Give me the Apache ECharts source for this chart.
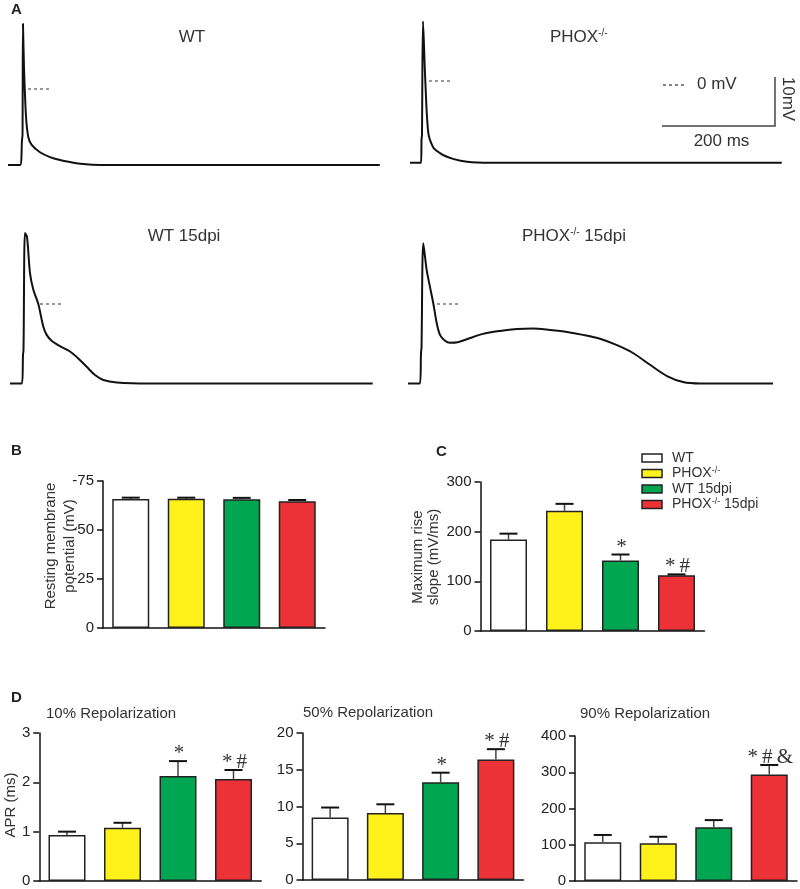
<!DOCTYPE html>
<html><head><meta charset="utf-8">
<script src="https://cdn.jsdelivr.net/npm/echarts@6/dist/echarts.min.js"></script>
<style>html,body{margin:0;padding:0;background:#fff}#c{width:800px;height:889px}</style>
</head><body><div id="c"></div>
<script>
// ---------- data ----------
const groups = ['WT', 'PHOX-/-', 'WT 15dpi', 'PHOX-/- 15dpi'];
const barColors = ['#ffffff', '#fff21a', '#00a651', '#ec3237'];

// Panel A: action potential traces [time ms, voltage mV]
const wtTrace = [[0,-15.5],[21.2,-15.5],[24.8,-10.4],[25.7,-9.4],[26.5,13.3],[28.3,4.5],[31.9,-5.7],[35.9,-9.8],[41.9,-11.4],[56.6,-12.9],[74.3,-13.9],[92,-14.5],[109.7,-14.9],[132.7,-15.3],[162.8,-15.5],[658,-15.5]];
const phoxTrace = [[0,-16.7],[19.5,-16.7],[20.4,-12.0],[21.2,-11.0],[23.0,12.2],[27.1,0],[32.4,-10.6],[40.7,-13.5],[47.8,-14.3],[58.4,-15.1],[76.1,-15.9],[100.9,-16.5],[141.6,-16.7],[658,-16.7]];
const wt15Trace = [[0,-16.2],[21.2,-16.2],[23.0,-10.4],[23.9,-9.4],[26.5,14.5],[30.1,13.7],[35.4,6.3],[41.3,2.9],[50.1,0],[58.9,-4.6],[64.9,-6.3],[73.7,-7.5],[88.5,-8.6],[106.2,-9.7],[120.9,-11.1],[135.7,-12.8],[150.4,-14.5],[165.2,-15.5],[188.8,-16.0],[247.8,-16.2],[642,-16.2]];
const phox15Trace = [[0,-16.2],[21.2,-16.2],[23.0,-10.0],[23.9,-9.0],[27.1,12.4],[33.1,6.9],[38.9,3.5],[44.8,0.1],[50.8,-3.9],[56.6,-6.3],[65.5,-7.5],[74.3,-7.9],[88,-7.8],[103.9,-7.2],[132.7,-6.1],[162.8,-5.5],[192.9,-5.1],[221.2,-5.0],[251.3,-5.3],[281.4,-5.7],[309.7,-6.3],[339.8,-7.1],[369.9,-8.4],[398.2,-10.0],[428.3,-12.4],[458.4,-14.7],[486.7,-15.9],[516.8,-16.2],[646,-16.2]];
// 0 mV dashed reference segments [start ms, end ms]
const zeroWT = [35.4, 74.3];
const zeroPHOX = [33.6, 74.3];
const zeroWT15 = [53.1, 92.0];
const zeroPHOX15 = [51.3, 90.3];

// Panel B: resting membrane potential (mV)
const restMean = [-65.8, -65.9, -65.7, -64.7];
const restErr = [0.7, 0.6, 0.7, 0.6];
const restMarks = ['', '', '', ''];
const restTicks = [-75, 0, 25];

// Panel C: maximum rise slope (mV/ms)
const riseMean = [184, 242, 142, 112];
const riseErr = [12, 14, 12, 2];
const riseMarks = ['', '', '*', '*\u2009#'];
const riseTicks = [0, 300, 100];

// Panel D: APR (ms)
const apr10Mean = [0.93, 1.08, 2.13, 2.07];
const apr10Err = [0.07, 0.1, 0.3, 0.18];
const apr10Marks = ['', '', '*', '*\u2009#'];
const apr10Ticks = [0, 3, 1];
const apr50Mean = [8.5, 9.1, 13.3, 16.4];
const apr50Err = [1.36, 1.2, 1.3, 1.4];
const apr50Marks = ['', '', '*', '*\u2009#'];
const apr50Ticks = [0, 20, 5];
const apr90Mean = [107, 104, 148, 294];
const apr90Err = [20, 18, 20, 26];
const apr90Marks = ['', '', '', '*\u2009#\u2009&'];
const apr90Ticks = [0, 400, 100];

// ---------- build ----------
const SANS = 'Liberation Sans, Arial, sans-serif';
const SERIF = 'Liberation Serif, Times New Roman, serif';
const chart = echarts.init(document.getElementById('c'), null, {renderer: 'canvas'});

const grids = [], xAxes = [], yAxes = [], series = [];

// trace grids: 0.565 px/ms, 4.9 px/mV, y range -18..16 mV
const PXMS = 0.565, PXMV = 4.9;
function traceGrid(left, widthPx, zeroY, trace, zero) {
  const gi = grids.length;
  grids.push({left: left, top: zeroY - 16 * PXMV, width: widthPx, height: 34 * PXMV});
  xAxes.push({type: 'value', gridIndex: gi, min: 0, max: widthPx / PXMS, show: false});
  yAxes.push({type: 'value', gridIndex: gi, min: -18, max: 16, show: false});
  series.push({type: 'line', xAxisIndex: gi, yAxisIndex: gi, data: trace, showSymbol: false,
    smooth: 0.3, lineStyle: {color: '#111', width: 2}, silent: true, z: 3});
  series.push({type: 'line', xAxisIndex: gi, yAxisIndex: gi, data: [[zero[0], 0], [zero[1], 0]],
    showSymbol: false, lineStyle: {color: '#333', width: 1.2, type: [3, 3]}, silent: true});
}
traceGrid(8, 372, 89, wtTrace, zeroWT);
traceGrid(410, 372, 81, phoxTrace, zeroPHOX);
traceGrid(10, 363, 304, wt15Trace, zeroWT15);
traceGrid(408, 365, 304, phox15Trace, zeroPHOX15);

function barGrid(left, top, width, height, ticks, means, errs, marks, inverse) {
  const gi = grids.length;
  grids.push({left: left, top: top, width: width, height: height});
  xAxes.push({type: 'category', gridIndex: gi, data: groups,
    axisLine: {lineStyle: {color: '#111', width: 1.5}}, axisTick: {show: false}, axisLabel: {show: false}});
  yAxes.push({type: 'value', gridIndex: gi, min: ticks[0], max: ticks[1], interval: ticks[2], inverse: !!inverse,
    splitLine: {show: false},
    axisLine: {show: true, lineStyle: {color: '#111', width: 1.5}},
    axisTick: {show: true, length: 6, lineStyle: {color: '#111', width: 1.5}},
    axisLabel: {fontFamily: SANS, fontSize: 15, color: '#222', margin: 9}});
  series.push({type: 'bar', xAxisIndex: gi, yAxisIndex: gi, barWidth: 37, silent: true, z: 2,
    data: means.map((v, i) => ({value: v, itemStyle: {color: barColors[i]}})),
    itemStyle: {borderColor: '#222', borderWidth: 1.5}});
  series.push({type: 'custom', xAxisIndex: gi, yAxisIndex: gi, z: 4, silent: true,
    data: means.map((m, i) => [i, m, errs[i]]),
    renderItem: function (params, api) {
      const i = api.value(0), m = api.value(1), e = api.value(2);
      const end = m + (m < 0 ? -e : e);
      const p0 = api.coord([i, m]), p1 = api.coord([i, end]);
      const hw = 9;
      const ch = [
        {type: 'line', shape: {x1: p0[0], y1: p0[1], x2: p1[0], y2: p1[1]}, style: {stroke: '#444', lineWidth: 1.5}},
        {type: 'line', shape: {x1: p1[0] - hw, y1: p1[1], x2: p1[0] + hw, y2: p1[1]}, style: {stroke: '#111', lineWidth: 2}}
      ];
      const mk = marks[params.dataIndex];
      if (mk) {
        ch.push({type: 'text', x: p1[0] + 1, y: p1[1] + 3,
          style: {text: mk, font: '21px ' + SERIF, fill: '#333', align: 'center', verticalAlign: 'bottom'}});
      }
      return {type: 'group', children: ch};
    }});
}
barGrid(103, 481, 222, 147, restTicks, restMean, restErr, restMarks, true);
barGrid(480.5, 482, 224, 149, riseTicks, riseMean, riseErr, riseMarks, false);
barGrid(39.25, 733, 222, 148, apr10Ticks, apr10Mean, apr10Err, apr10Marks, false);
barGrid(302.5, 733, 221, 147, apr50Ticks, apr50Mean, apr50Err, apr50Marks, false);
barGrid(575, 736, 222, 145, apr90Ticks, apr90Mean, apr90Err, apr90Marks, false);

// ---------- annotations ----------
function txt(x, y, text, font, opts) {
  return Object.assign({type: 'text', x: x, y: y, silent: true,
    style: Object.assign({text: text, font: font, fill: '#333', align: 'left', verticalAlign: 'middle'}, (opts && opts.style) || {})},
    opts && opts.rot !== undefined ? {rotation: opts.rot} : {});
}
const richSup = {b: {fontFamily: SANS, fontSize: 17, fill: '#333'}, s: {fontFamily: SANS, fontSize: 10, verticalAlign: 'top', fill: '#333'}};
const richSupL = {b: {fontFamily: SANS, fontSize: 14, fill: '#333'}, s: {fontFamily: SANS, fontSize: 9, verticalAlign: 'top', fill: '#333'}};
const graphics = [
  txt(11, 10, 'A', 'bold 15px ' + SANS, {style: {fill: '#222'}}),
  txt(11, 451, 'B', 'bold 15px ' + SANS, {style: {fill: '#222'}}),
  txt(436, 451.5, 'C', 'bold 15px ' + SANS, {style: {fill: '#222'}}),
  txt(11, 697.5, 'D', 'bold 15px ' + SANS, {style: {fill: '#222'}}),
  // trace titles
  txt(192, 37, 'WT', '17px ' + SANS, {style: {align: 'center'}}),
  {type: 'text', x: 550, y: 37, silent: true, style: {text: '{b|PHOX}{s|-/-}', rich: richSup, align: 'left', verticalAlign: 'middle'}},
  txt(184, 236, 'WT 15dpi', '17px ' + SANS, {style: {align: 'center'}}),
  {type: 'text', x: 522, y: 236, silent: true, style: {text: '{b|PHOX}{s|-/-}{b| 15dpi}', rich: richSup, align: 'left', verticalAlign: 'middle'}},
  // scale bar
  {type: 'line', silent: true, shape: {x1: 663, y1: 85, x2: 684, y2: 85}, style: {stroke: '#333', lineWidth: 1.2, lineDash: [3, 3]}},
  txt(697, 84, '0 mV', '17px ' + SANS),
  {type: 'polyline', silent: true, shape: {points: [[662, 126], [775, 126], [775, 77]]}, style: {stroke: '#444', lineWidth: 1.5, fill: null}},
  txt(721.5, 141, '200 ms', '17px ' + SANS, {style: {align: 'center'}}),
  txt(788, 99, '10mV', '17px ' + SANS, {style: {align: 'center'}, rot: -Math.PI / 2}),
  // axis names
  txt(51, 546, 'Resting membrane', '15px ' + SANS, {style: {align: 'center'}, rot: Math.PI / 2}),
  txt(70, 546, 'potential (mV)', '15px ' + SANS, {style: {align: 'center'}, rot: Math.PI / 2}),
  txt(418, 557, 'Maximum rise', '15px ' + SANS, {style: {align: 'center'}, rot: Math.PI / 2}),
  txt(434, 557, 'slope (mV/ms)', '15px ' + SANS, {style: {align: 'center'}, rot: Math.PI / 2}),
  txt(11, 805, 'APR (ms)', '15px ' + SANS, {style: {align: 'center'}, rot: Math.PI / 2}),
  // D titles
  txt(46, 714, '10% Repolarization', '15px ' + SANS),
  txt(303, 713, '50% Repolarization', '15px ' + SANS),
  txt(580, 714, '90% Repolarization', '15px ' + SANS)
];
// legend for C
const legY = [458, 473.5, 489, 504.5];
const legTxt = ['{b|WT}', '{b|PHOX}{s|-/-}', '{b|WT 15dpi}', '{b|PHOX}{s|-/-}{b| 15dpi}'];
groups.forEach((g, i) => {
  graphics.push({type: 'rect', silent: true, shape: {x: 642, y: legY[i] - 4, width: 20, height: 8},
    style: {fill: barColors[i], stroke: '#222', lineWidth: 1.5}});
  graphics.push({type: 'text', x: 672, y: legY[i], silent: true,
    style: {text: legTxt[i], rich: richSupL, align: 'left', verticalAlign: 'middle'}});
});

chart.setOption({
  animation: false,
  backgroundColor: '#ffffff',
  grid: grids, xAxis: xAxes, yAxis: yAxes, series: series,
  graphic: graphics
});
</script>
</body></html>
